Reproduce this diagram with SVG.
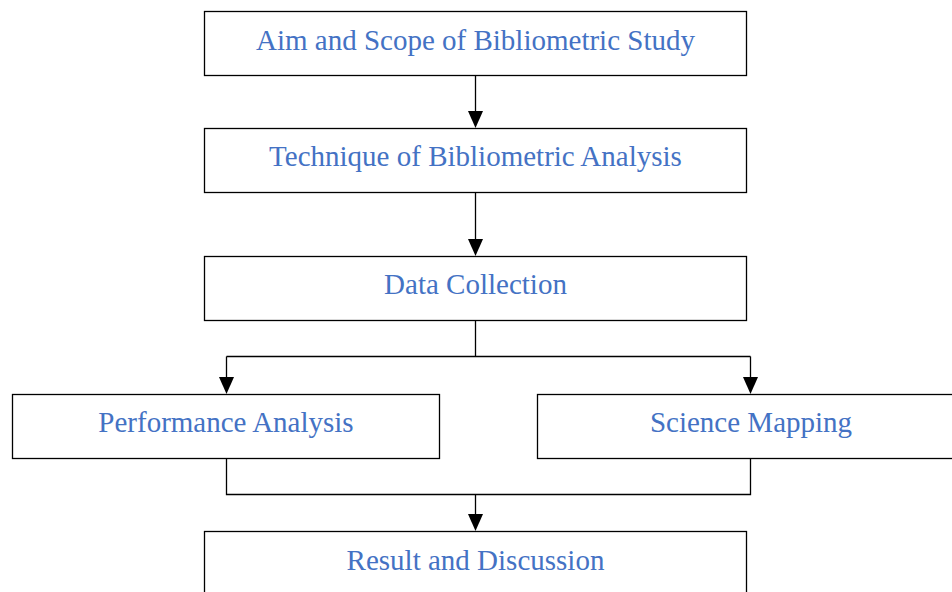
<svg xmlns="http://www.w3.org/2000/svg" width="952" height="592" viewBox="0 0 952 592">
<style>
.box{fill:#fff;stroke:#000;stroke-width:1.3}
.lbl{font-family:"Liberation Serif","Times New Roman",serif;font-size:29px;fill:#4472C4;text-anchor:middle}
.con{fill:none;stroke:#000;stroke-width:1.3}
.ah{fill:#000}
</style>
<rect width="952" height="592" fill="#fff"/>
<g id="n1"><rect class="box" x="204.5" y="11.5" width="542" height="64"/><text class="lbl" x="475.5" y="50">Aim and Scope of Bibliometric Study</text></g>
<g id="n2"><rect class="box" x="204.5" y="128.5" width="542" height="64"/><text class="lbl" x="475.5" y="166">Technique of Bibliometric Analysis</text></g>
<g id="n3"><rect class="box" x="204.5" y="256.5" width="542" height="64"/><text class="lbl" x="475.5" y="294">Data Collection</text></g>
<g id="n4"><rect class="box" x="12.5" y="394.5" width="427" height="64"/><text class="lbl" x="226" y="432">Performance Analysis</text></g>
<g id="n5"><rect class="box" x="537.5" y="394.5" width="430" height="64"/><text class="lbl" x="751" y="432">Science Mapping</text></g>
<g id="n6"><rect class="box" x="204.5" y="531.5" width="542" height="70"/><text class="lbl" x="475.5" y="570">Result and Discussion</text></g>
<g id="connectors">
<path class="con" d="M475.5,75.5 V112"/><path class="ah" d="M468,111 H483 L475.5,128 Z"/>
<path class="con" d="M475.5,192.5 V240"/><path class="ah" d="M468,239 H483 L475.5,256 Z"/>
<path class="con" d="M475.5,320.5 V356.5 M226.5,356.5 H750.5 M226.5,356.5 V378 M750.5,356.5 V378"/>
<path class="ah" d="M219,377 H234 L226.5,394 Z"/><path class="ah" d="M743,377 H758 L750.5,394 Z"/>
<path class="con" d="M226.5,458.5 V494.5 H750.5 V458.5 M475.5,494.5 V515"/>
<path class="ah" d="M468,514 H483 L475.5,531 Z"/>
</g>
</svg>
